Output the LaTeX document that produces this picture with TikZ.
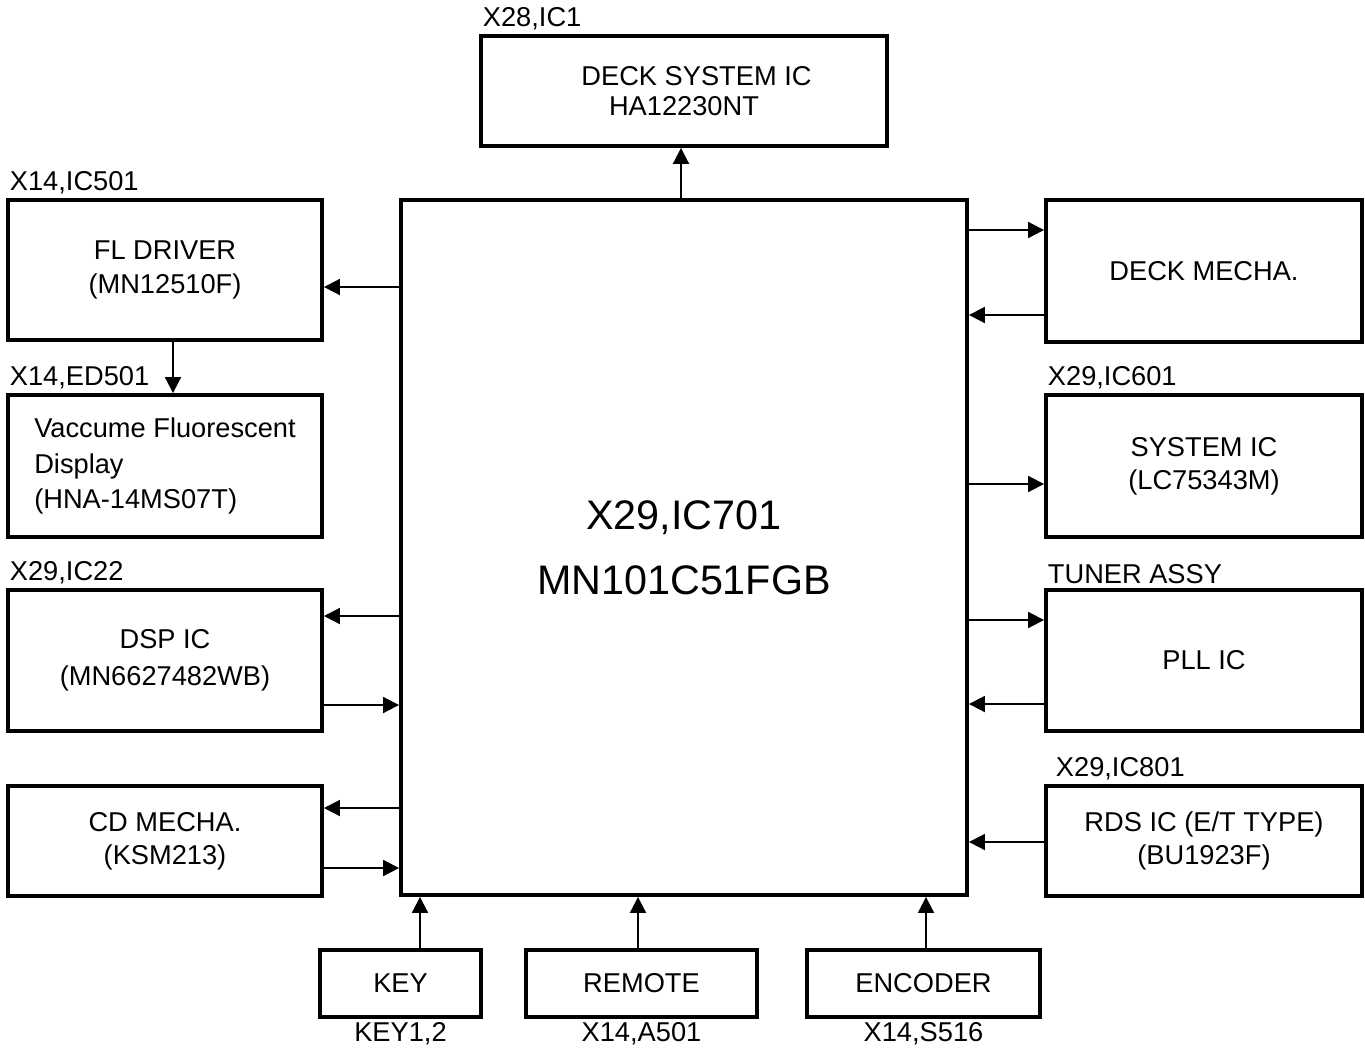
\documentclass[tikz,border=0pt]{standalone}
\usepackage{fontspec}
\setmainfont{Liberation Sans}
\usetikzlibrary{arrows.meta}

\begin{document}
\begin{tikzpicture}[
    blk/.style={shape=rectangle,draw=black,line width=2.2pt,align=center,
                font=\fontsize{15.5}{19}\selectfont},
    tag/.style={font=\fontsize{15.5}{19}\selectfont,inner sep=2pt},
    arr/.style={line width=1.1pt,-{Triangle[length=0.32cm,width=0.32cm]}}
]
\useasboundingbox (0,0) rectangle (27.3,-21.06);

% main controller
\node[blk,minimum width=11.32cm,minimum height=13.9cm,
      font=\fontsize{23.5}{37}\selectfont] (main) at (13.68,-10.95) {X29,IC701\\MN101C51FGB};

% top
\node[blk,minimum width=8.12cm,minimum height=2.2cm,
      font=\fontsize{15.5}{17.5}\selectfont,
      label={[tag,anchor=south west]north west:{X28,IC1}}] (deckic) at (13.68,-1.82) {\hspace*{0.5cm}DECK SYSTEM IC\\HA12230NT};

% left column
\node[blk,minimum width=6.28cm,minimum height=2.8cm,
      label={[tag,anchor=south west]north west:{X14,IC501}}] (fl) at (3.3,-5.4) {FL DRIVER\\(MN12510F)};
\node[blk,minimum width=6.28cm,minimum height=2.84cm,align=left,
      font=\fontsize{15.5}{20}\selectfont,
      label={[tag,anchor=south west]north west:{X14,ED501}}] (vfd) at (3.3,-9.32) {Vaccume Fluorescent\\Display\\(HNA-14MS07T)};
\node[blk,minimum width=6.28cm,minimum height=2.82cm,
      font=\fontsize{15.5}{21}\selectfont,
      label={[tag,anchor=south west]north west:{X29,IC22}}] (dsp) at (3.3,-13.21) {DSP IC\\(MN6627482WB)};
\node[blk,minimum width=6.28cm,minimum height=2.2cm] (cd) at (3.3,-16.82) {CD MECHA.\\(KSM213)};

% right column
\node[blk,minimum width=6.32cm,minimum height=2.84cm] (deckm) at (24.08,-5.42) {DECK MECHA.};
\node[blk,minimum width=6.32cm,minimum height=2.84cm,
      label={[tag,anchor=south west]north west:{X29,IC601}}] (sys) at (24.08,-9.32) {SYSTEM IC\\(LC75343M)};
\node[blk,minimum width=6.32cm,minimum height=2.82cm,
      label={[tag,anchor=south west]north west:{TUNER ASSY}}] (pll) at (24.08,-13.21) {PLL IC};
\node[blk,minimum width=6.32cm,minimum height=2.2cm,
      label={[tag,anchor=south west,xshift=0.16cm]north west:{X29,IC801}}] (rds) at (24.08,-16.82) {RDS IC (E/T TYPE)\\(BU1923F)};

% bottom row
\node[blk,minimum width=3.22cm,minimum height=1.34cm,label distance=0.08cm,
      label={[tag]below:{KEY1,2}}] (key) at (8.01,-19.67) {KEY};
\node[blk,minimum width=4.62cm,minimum height=1.34cm,label distance=0.08cm,
      label={[tag]below:{X14,A501}}] (remote) at (12.83,-19.67) {REMOTE};
\node[blk,minimum width=4.66cm,minimum height=1.34cm,label distance=0.08cm,
      label={[tag]below:{X14,S516}}] (enc) at (18.47,-19.67) {ENCODER};

% connections
\draw[arr] (main.north -| 13.62,0) -- (deckic.south -| 13.62,0);
\draw[arr] (main.west |- 0,-5.74) -- (fl.east |- 0,-5.74);
\draw[arr] (fl.south -| 3.46,0) -- (vfd.north -| 3.46,0);
\draw[arr] (main.west |- 0,-12.32) -- (dsp.east |- 0,-12.32);
\draw[arr] (dsp.east |- 0,-14.1) -- (main.west |- 0,-14.1);
\draw[arr] (main.west |- 0,-16.16) -- (cd.east |- 0,-16.16);
\draw[arr] (cd.east |- 0,-17.36) -- (main.west |- 0,-17.36);

\draw[arr] (main.east |- 0,-4.6) -- (deckm.west |- 0,-4.6);
\draw[arr] (deckm.west |- 0,-6.3) -- (main.east |- 0,-6.3);
\draw[arr] (main.east |- 0,-9.68) -- (sys.west |- 0,-9.68);
\draw[arr] (main.east |- 0,-12.4) -- (pll.west |- 0,-12.4);
\draw[arr] (pll.west |- 0,-14.08) -- (main.east |- 0,-14.08);
\draw[arr] (rds.west |- 0,-16.84) -- (main.east |- 0,-16.84);

\draw[arr] (key.north -| 8.4,0) -- (main.south -| 8.4,0);
\draw[arr] (remote.north -| 12.76,0) -- (main.south -| 12.76,0);
\draw[arr] (enc.north -| 18.52,0) -- (main.south -| 18.52,0);
\end{tikzpicture}
\end{document}
